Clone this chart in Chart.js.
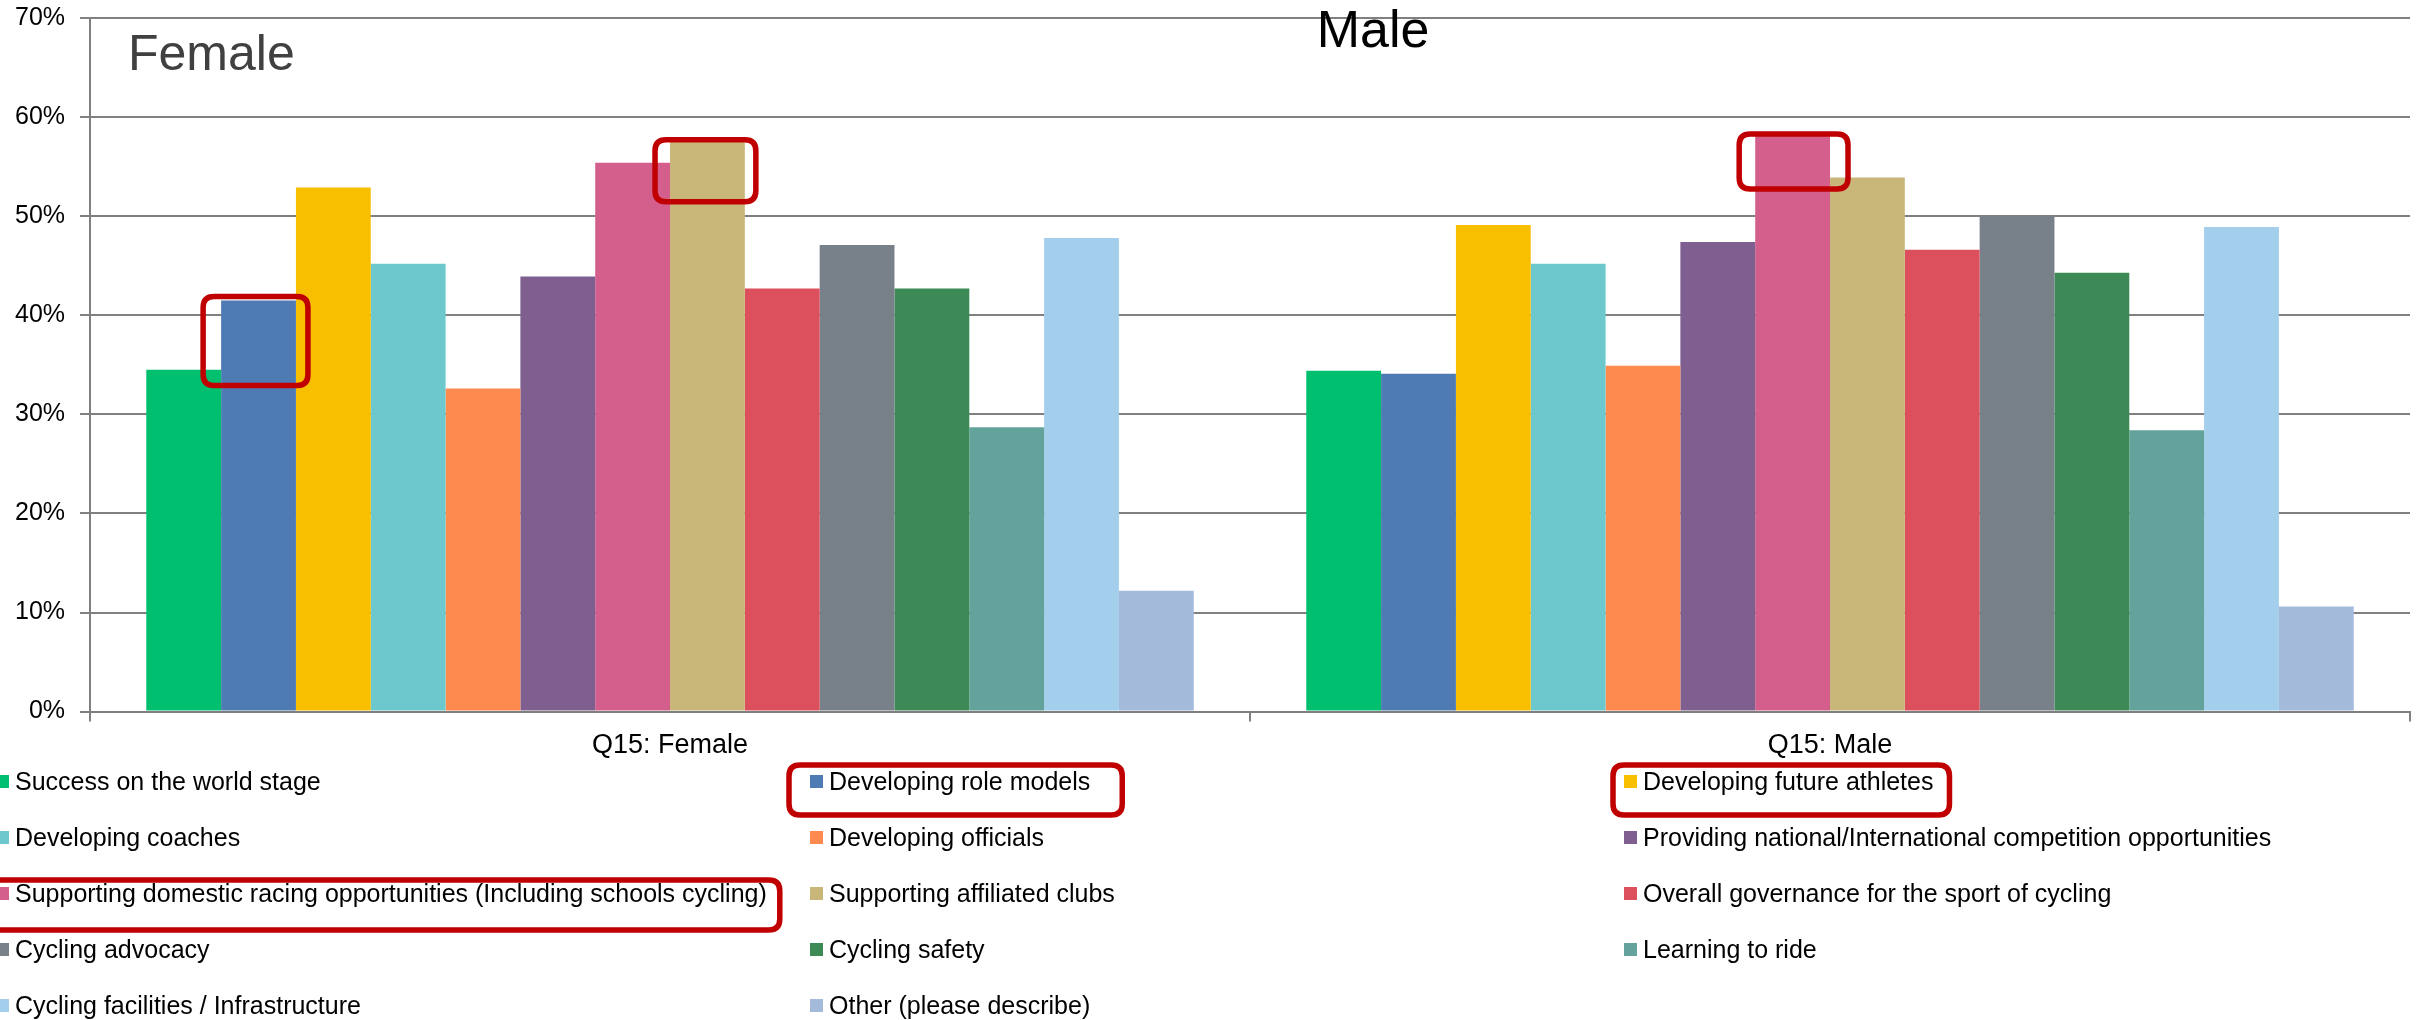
<!DOCTYPE html>
<html>
<head>
<meta charset="utf-8">
<script src="https://cdn.jsdelivr.net/npm/chart.js@4.4.1/dist/chart.umd.min.js"></script>
<style>
html,body{margin:0;padding:0;background:#fff;}
#wrap{width:2422px;height:1020px;position:relative;}
</style>
</head>
<body>
<div id="wrap"><canvas id="c" width="2422" height="1020"></canvas></div>
<script>
const categories = ['Q15: Female', 'Q15: Male'];
const seriesNames = [
  'Success on the world stage',
  'Developing role models',
  'Developing future athletes',
  'Developing coaches',
  'Developing officials',
  'Providing national/International competition opportunities',
  'Supporting domestic racing opportunities (Including schools cycling)',
  'Supporting affiliated clubs',
  'Overall governance for the sport of cycling',
  'Cycling advocacy',
  'Cycling safety',
  'Learning to ride',
  'Cycling facilities / Infrastructure',
  'Other (please describe)'
];
const femaleValues = [34.5, 41.5, 52.9, 45.2, 32.6, 43.9, 55.4, 57.5, 42.7, 47.1, 42.7, 28.7, 47.8, 12.2];
const maleValues   = [34.4, 34.1, 49.1, 45.2, 34.9, 47.4, 58.3, 53.9, 46.6, 50.0, 44.3, 28.4, 48.9, 10.6];
const seriesColors = ['#00BF6F','#4F7BB4','#F8BE00','#6CC8CC','#FF8A50','#7E5F8F','#D45F8D','#C9B77A','#DC4F5D','#78818A','#3D8A56','#63A39C','#A3CFEC','#A3BADB'];
const yTicks = [0, 10, 20, 30, 40, 50, 60, 70];
const panelTitles = ['Female', 'Male'];

const FONT = "'Liberation Sans', Arial, sans-serif";
const GRID = '#808080';
const RED = '#C00000';

const datasets = seriesNames.map((name, i) => ({
  label: name,
  data: [femaleValues[i], maleValues[i]],
  backgroundColor: seriesColors[i],
  borderWidth: 0,
  categoryPercentage: 0.903,
  barPercentage: 1.0
}));

function roundRect(ctx, x, y, w, h, r) {
  ctx.beginPath();
  ctx.moveTo(x + r, y);
  ctx.lineTo(x + w - r, y);
  ctx.quadraticCurveTo(x + w, y, x + w, y + r);
  ctx.lineTo(x + w, y + h - r);
  ctx.quadraticCurveTo(x + w, y + h, x + w - r, y + h);
  ctx.lineTo(x + r, y + h);
  ctx.quadraticCurveTo(x, y + h, x, y + h - r);
  ctx.lineTo(x, y + r);
  ctx.quadraticCurveTo(x, y, x + r, y);
  ctx.closePath();
}

// legend layout (styles only)
const legendCols = [-4, 810, 1624];
const legendBase = 790, legendRowGap = 56, legendTextOffset = 19, legendBox = 13;
// highlight annotations (stroke centre offsets): [datasetIndex, categoryIndex, dl, dr, dt, db]
const barHighlights = [[1, 0, 18, 12, 4, 85], [7, 0, 15, 11, 2, 60], [6, 1, 16, 18, 0, 55]];
// legend highlights: [datasetIndex, dl, dr, dt, db]
const legendHighlights = [[1, 21, 32, 25, 25], [2, 11, 16, 25, 25], [6, 21, 13, 22, 28]];

const overlay = {
  id: 'overlay',
  afterDraw(chart) {
    const ctx = chart.ctx;
    ctx.save();
    // panel titles
    ctx.textBaseline = 'alphabetic';
    ctx.font = '50px ' + FONT;
    ctx.fillStyle = '#404040';
    ctx.textAlign = 'left';
    ctx.fillText(panelTitles[0], 128, 70);
    ctx.font = '52px ' + FONT;
    ctx.fillStyle = '#000';
    ctx.textAlign = 'center';
    ctx.fillText(panelTitles[1], 1373, 47);

    // legend
    ctx.font = '25px ' + FONT;
    ctx.textAlign = 'left';
    const items = [];
    chart.data.datasets.forEach((ds, i) => {
      const col = i % 3, row = Math.floor(i / 3);
      const x = legendCols[col];
      const base = legendBase + row * legendRowGap;
      ctx.fillStyle = ds.backgroundColor;
      ctx.fillRect(x, base - 15, legendBox, legendBox);
      ctx.fillStyle = '#000';
      ctx.fillText(ds.label, x + legendTextOffset, base);
      items[i] = {x, base, w: ctx.measureText(ds.label).width};
    });

    // red highlight boxes
    ctx.strokeStyle = RED;
    ctx.lineWidth = 5.5;
    ctx.lineJoin = 'round';
    barHighlights.forEach(([d, c, dl, dr, dt, db]) => {
      const el = chart.getDatasetMeta(d).data[c];
      const left = el.x - el.width / 2 - dl, right = el.x + el.width / 2 + dr;
      const top = el.y - dt, bottom = el.y + db;
      roundRect(ctx, left, top, right - left, bottom - top, 11);
      ctx.stroke();
    });
    legendHighlights.forEach(([d, dl, dr, dt, db]) => {
      const it = items[d];
      const left = it.x - dl, right = it.x + legendTextOffset + it.w + dr;
      roundRect(ctx, left, it.base - dt, right - left, dt + db, 11);
      ctx.stroke();
    });
    ctx.restore();
  }
};

new Chart(document.getElementById('c'), {
  type: 'bar',
  data: { labels: categories, datasets },
  options: {
    responsive: false,
    animation: false,
    devicePixelRatio: 1,
    layout: { padding: { left: 0, top: 18, right: 12, bottom: 250 } },
    plugins: { legend: { display: false }, tooltip: { enabled: false }, title: { display: false } },
    scales: {
      x: {
        grid: { drawOnChartArea: false, color: GRID, lineWidth: 2, tickLength: 10, offset: true },
        border: { color: GRID, width: 2 },
        ticks: { color: '#000', font: { family: FONT, size: 27 }, padding: 8 }
      },
      y: {
        min: 0, max: 70,
        afterBuildTicks(axis) { axis.ticks = yTicks.map(v => ({ value: v })); },
        afterFit(axis) { axis.paddingTop = 12; axis.paddingBottom = 12; },
        grid: { color: GRID, lineWidth: 2, tickLength: 10 },
        border: { color: GRID, width: 2 },
        ticks: { color: '#000', font: { family: FONT, size: 25 }, padding: 15, callback: v => v + '%' }
      }
    }
  },
  plugins: [overlay]
});
</script>
</body>
</html>
